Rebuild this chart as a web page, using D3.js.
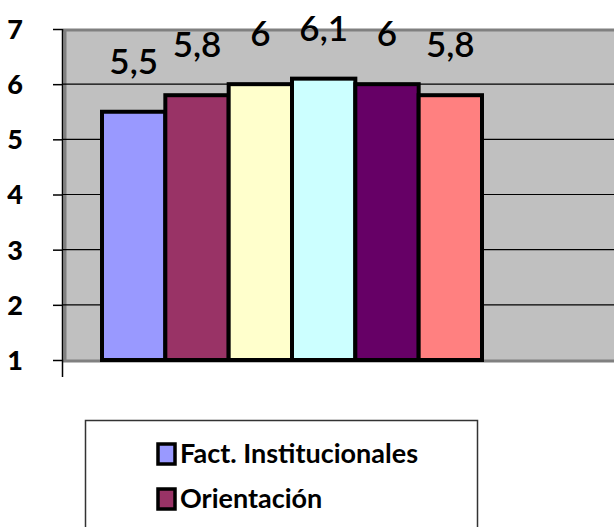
<!DOCTYPE html>
<html>
<head>
<meta charset="utf-8">
<script src="https://cdn.jsdelivr.net/npm/d3@7"></script>
<style>
  html, body { margin: 0; padding: 0; background: #fff; }
  svg { display: block; }
  text { font-family: Lato, "Open Sans", sans-serif; }
</style>
</head>
<body>
<div id="main"></div>
<script>
var values = [5.5, 5.8, 6, 6.1, 6, 5.8];
var valueLabels = ['5,5', '5,8', '6', '6,1', '6', '5,8'];
var barColors = ['#9999ff', '#993366', '#ffffcc', '#ccffff', '#660066', '#ff8080'];
var legendLabels = ['Fact. Institucionales', 'Orientación'];
var yTicks = [1, 2, 3, 4, 5, 6, 7];

function Sketch() {
  this.width = 614;
  this.height = 527;
}

Sketch.prototype.init = function() {
  this.svg = d3.select('#main')
    .append('svg')
    .attr('width', this.width)
    .attr('height', this.height);

  this.y = d3.scaleLinear().domain([1, 7]).range([360, 29]);
  this.x = d3.scaleBand().domain(d3.range(values.length)).range([102, 482]).padding(0);
};

Sketch.prototype.render = function() {
  var svg = this.svg, x = this.x, y = this.y;
  var left = 63, right = this.width + 5;

  // plot area
  svg.append('rect')
    .attr('x', left).attr('y', y(7))
    .attr('width', right - left).attr('height', y(1) - y(7))
    .attr('fill', '#c0c0c0');

  // shadow-ish borders
  svg.append('line')
    .attr('x1', left).attr('x2', right)
    .attr('y1', y(7) + 1).attr('y2', y(7) + 1)
    .attr('stroke', '#808080').attr('stroke-width', 3);
  svg.append('line')
    .attr('x1', left + 2).attr('x2', left + 2)
    .attr('y1', y(7)).attr('y2', y(1))
    .attr('stroke', '#808080').attr('stroke-width', 3);
  svg.append('line')
    .attr('x1', left).attr('x2', right)
    .attr('y1', y(1) + 1).attr('y2', y(1) + 1)
    .attr('stroke', '#808080').attr('stroke-width', 3);

  // gridlines
  svg.append('g').selectAll('line')
    .data(yTicks.filter(function(d) { return d > 1 && d < 7; }))
    .enter().append('line')
    .attr('x1', left).attr('x2', right)
    .attr('y1', function(d) { return y(d); })
    .attr('y2', function(d) { return y(d); })
    .attr('stroke', '#000').attr('stroke-width', 1.2);

  // y axis
  var axis = svg.append('g')
    .attr('transform', 'translate(' + left + ',0)')
    .call(d3.axisLeft(y).tickValues(yTicks).tickSize(10).tickPadding(38).tickFormat(d3.format('d')));
  axis.select('.domain').remove();
  axis.selectAll('.tick line').attr('stroke', '#000').attr('stroke-width', 1.5);
  axis.selectAll('.tick text')
    .attr('fill', '#000')
    .attr('font-size', 27)
    .attr('font-weight', 900)
    .attr('text-anchor', 'middle')
    .attr('dy', '0.35em')
    .style('font-family', 'Lato, "Open Sans", sans-serif');
  svg.append('line')
    .attr('x1', left - 0.5).attr('x2', left - 0.5)
    .attr('y1', y(7)).attr('y2', y(1) + 17)
    .attr('stroke', '#000').attr('stroke-width', 1.5);

  // bars
  svg.append('g').selectAll('rect')
    .data(values)
    .enter().append('rect')
    .attr('x', function(d, i) { return x(i); })
    .attr('y', function(d) { return y(d); })
    .attr('width', x.bandwidth())
    .attr('height', function(d) { return y(1) - y(d); })
    .attr('fill', function(d, i) { return barColors[i]; })
    .attr('stroke', '#000')
    .attr('stroke-width', 4);

  // value labels
  svg.append('g').selectAll('text')
    .data(values)
    .enter().append('text')
    .attr('x', function(d, i) { return x(i) + x.bandwidth() / 2; })
    .attr('y', function(d) { return y(d) - 38; })
    .attr('text-anchor', 'middle')
    .attr('font-size', 35)
    .attr('font-weight', 600)
    .attr('fill', '#000')
    .text(function(d, i) { return valueLabels[i]; });

  // legend
  var lg = svg.append('g');
  lg.append('rect')
    .attr('x', 85.5).attr('y', 420.5)
    .attr('width', 392).attr('height', 140)
    .attr('fill', '#fff')
    .attr('stroke', '#333').attr('stroke-width', 1.5);
  var items = lg.selectAll('g.item')
    .data(legendLabels)
    .enter().append('g')
    .attr('class', 'item')
    .attr('transform', function(d, i) { return 'translate(158,' + (444 + i * 45) + ')'; });
  items.append('rect')
    .attr('width', 17).attr('height', 20)
    .attr('fill', function(d, i) { return barColors[i]; })
    .attr('stroke', '#000').attr('stroke-width', 3.5);
  items.append('text')
    .attr('x', 22).attr('y', 19)
    .attr('font-size', 27)
    .attr('font-weight', 'bold')
    .attr('fill', '#000')
    .text(function(d) { return d; });
};

document.addEventListener('DOMContentLoaded', function() {
  var s = new Sketch();
  s.init();
  s.render();
});
</script>
</body>
</html>
